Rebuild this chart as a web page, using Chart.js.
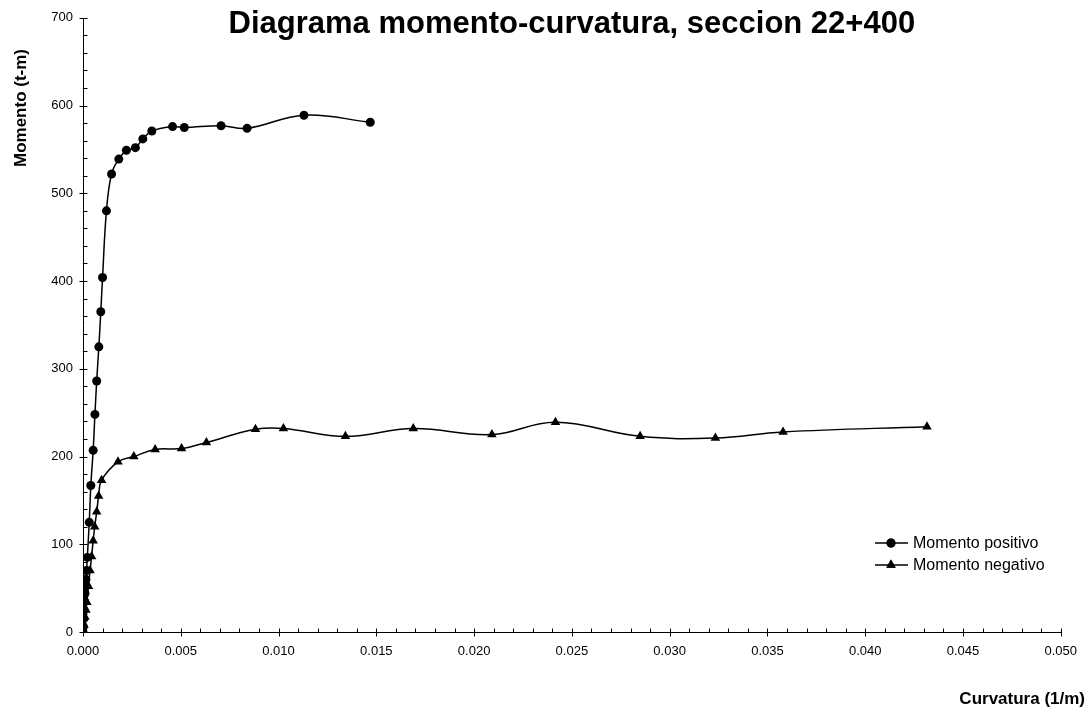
<!DOCTYPE html>
<html><head><meta charset="utf-8">
<script src="https://cdn.jsdelivr.net/npm/chart.js@4/dist/chart.umd.min.js"></script>
<style>html,body{margin:0;padding:0;background:#fff;}#wrap{width:1089px;height:717px;position:relative;}</style>
</head><body><div id="wrap"><canvas id="c" width="1089" height="717"></canvas></div>
<script>
// ---- data ----
const curvaturaPositivo = [0, 0.00002, 0.00004, 0.00006, 0.00008, 0.0001, 0.00012, 0.00015, 0.00018, 0.00022, 0.00032, 0.00040, 0.00052, 0.00061, 0.00070, 0.00081, 0.00091, 0.00100, 0.00120, 0.00146, 0.00183, 0.00222, 0.00268, 0.00306, 0.00352, 0.00458, 0.00518, 0.00706, 0.00839, 0.0113, 0.01469];
const momentoPositivo   = [0, 6, 15, 25, 35, 44, 52, 60, 70, 85, 125, 167, 207, 248, 286, 325, 365, 404, 480, 522, 539, 549, 552, 562, 571, 576, 575, 577, 574, 589, 581];
const curvaturaNegativo = [0, 0.00005, 0.0001, 0.00015, 0.0002, 0.00028, 0.00036, 0.00044, 0.00052, 0.0006, 0.0007, 0.0008, 0.00095, 0.00179, 0.0026, 0.00369, 0.00504, 0.00631, 0.00882, 0.01025, 0.01342, 0.01689, 0.02091, 0.02416, 0.02849, 0.03234, 0.0358, 0.04316];
const momentoNegativo   = [0, 8, 17, 25, 34, 52, 70, 86, 104, 120, 137, 155, 173, 194, 200, 208, 209, 216, 231, 232, 223, 232, 225, 239, 223, 221, 228, 234];
const xTickValues = [0, 0.005, 0.010, 0.015, 0.020, 0.025, 0.030, 0.035, 0.040, 0.045, 0.050];
const yTickValues = [0, 100, 200, 300, 400, 500, 600, 700];
const seriesNames = ['Momento positivo', 'Momento negativo'];
const chartTitle = 'Diagrama momento-curvatura, seccion 22+400';
const xTitle = 'Curvatura (1/m)';
const yTitle = 'Momento (t-m)';

const FONT = "'Liberation Sans', Arial, sans-serif";
const toPts = (xs, ys) => xs.map((v, i) => ({x: v, y: ys[i]}));

const decor = {
  id: 'decor',
  beforeDatasetsDraw(chart) {
    const {ctx, scales: {x, y}} = chart;
    ctx.save();
    ctx.strokeStyle = '#000'; ctx.lineWidth = 1;
    const x0 = Math.round(x.getPixelForValue(0)) + 0.5;
    const y0 = Math.round(y.getPixelForValue(0)) + 0.5;
    const yTop = Math.round(y.getPixelForValue(700));
    const xEnd = Math.round(x.getPixelForValue(0.05)) + 0.5;
    ctx.beginPath();
    ctx.moveTo(x0, yTop); ctx.lineTo(x0, y0); ctx.lineTo(xEnd, y0);
    for (let i = 0; i <= 35; i++) {
      const py = Math.round(y.getPixelForValue(i * 20)) + 0.5;
      if (i % 5 === 0) { ctx.moveTo(x0 - 4, py); ctx.lineTo(x0 + 4, py); }
      else { ctx.moveTo(x0, py); ctx.lineTo(x0 + 4, py); }
    }
    for (let i = 0; i <= 50; i++) {
      const px = Math.round(x.getPixelForValue(i * 0.001)) + 0.5;
      if (i % 5 === 0) { ctx.moveTo(px, y0 - 4); ctx.lineTo(px, y0 + 4); }
      else { ctx.moveTo(px, y0); ctx.lineTo(px, y0 - 4); }
    }
    ctx.stroke();
    ctx.restore();
  },
  afterDraw(chart) {
    const {ctx, chartArea: a} = chart;
    ctx.save();
    ctx.fillStyle = '#000';
    ctx.font = 'bold 31px ' + FONT;
    ctx.textAlign = 'center'; ctx.textBaseline = 'alphabetic';
    ctx.fillText(chartTitle, (a.left + a.right) / 2, 33);
    ctx.font = 'bold 17px ' + FONT;
    ctx.textAlign = 'right';
    ctx.fillText(xTitle, 1085, 704);
    ctx.save();
    ctx.translate(21, 108);
    ctx.rotate(-Math.PI / 2);
    ctx.textAlign = 'center'; ctx.textBaseline = 'middle';
    ctx.fillText(yTitle, 0, 0);
    ctx.restore();
    ctx.font = '16px ' + FONT;
    ctx.textAlign = 'left'; ctx.textBaseline = 'middle';
    chart.data.datasets.forEach((ds, i) => {
      const ly = 543 + i * 22;
      ctx.strokeStyle = '#000'; ctx.lineWidth = 1.5;
      ctx.beginPath(); ctx.moveTo(875, ly); ctx.lineTo(908, ly); ctx.stroke();
      ctx.fillStyle = '#000';
      Chart.helpers.drawPoint(ctx, {pointStyle: ds.pointStyle, radius: ds.pointRadius, rotation: 0, borderWidth: 0}, 891, ly);
      ctx.fill();
      ctx.fillText(ds.label, 913, ly + 1);
    });
    ctx.restore();
  }
};

new Chart(document.getElementById('c'), {
  type: 'scatter',
  data: {
    datasets: [
      {label: seriesNames[0], data: toPts(curvaturaPositivo, momentoPositivo), showLine: true, tension: 0.4,
       borderColor: '#000', backgroundColor: '#000', borderWidth: 1.5, pointStyle: 'circle', pointRadius: 4.5, pointBorderWidth: 0},
      {label: seriesNames[1], data: toPts(curvaturaNegativo, momentoNegativo), showLine: true, tension: 0.4,
       borderColor: '#000', backgroundColor: '#000', borderWidth: 1.5, pointStyle: 'triangle', pointRadius: 5.5, pointBorderWidth: 0}
    ]
  },
  options: {
    responsive: false, animation: false, devicePixelRatio: 1,
    layout: {padding: {left: 0, top: 11, right: 21, bottom: 0}},
    plugins: {legend: {display: false}, tooltip: {enabled: false}, title: {display: false}},
    scales: {
      x: {type: 'linear', min: 0, max: 0.05,
          afterBuildTicks: s => { s.ticks = xTickValues.map(v => ({value: v})); },
          afterFit: s => { s.height = 85; },
          grid: {display: false, drawTicks: false}, border: {display: false},
          ticks: {color: '#000', font: {family: FONT, size: 13}, padding: 12, maxRotation: 0, autoSkip: false,
                  callback: v => Number(v).toFixed(3)}},
      y: {type: 'linear', min: 0, max: 700,
          afterBuildTicks: s => { s.ticks = yTickValues.map(v => ({value: v})); },
          afterFit: s => { s.width = 83; },
          grid: {display: false, drawTicks: false}, border: {display: false},
          ticks: {color: '#000', font: {family: FONT, size: 13}, padding: 10, callback: v => String(v)}}
    }
  },
  plugins: [decor]
});
</script></body></html>
